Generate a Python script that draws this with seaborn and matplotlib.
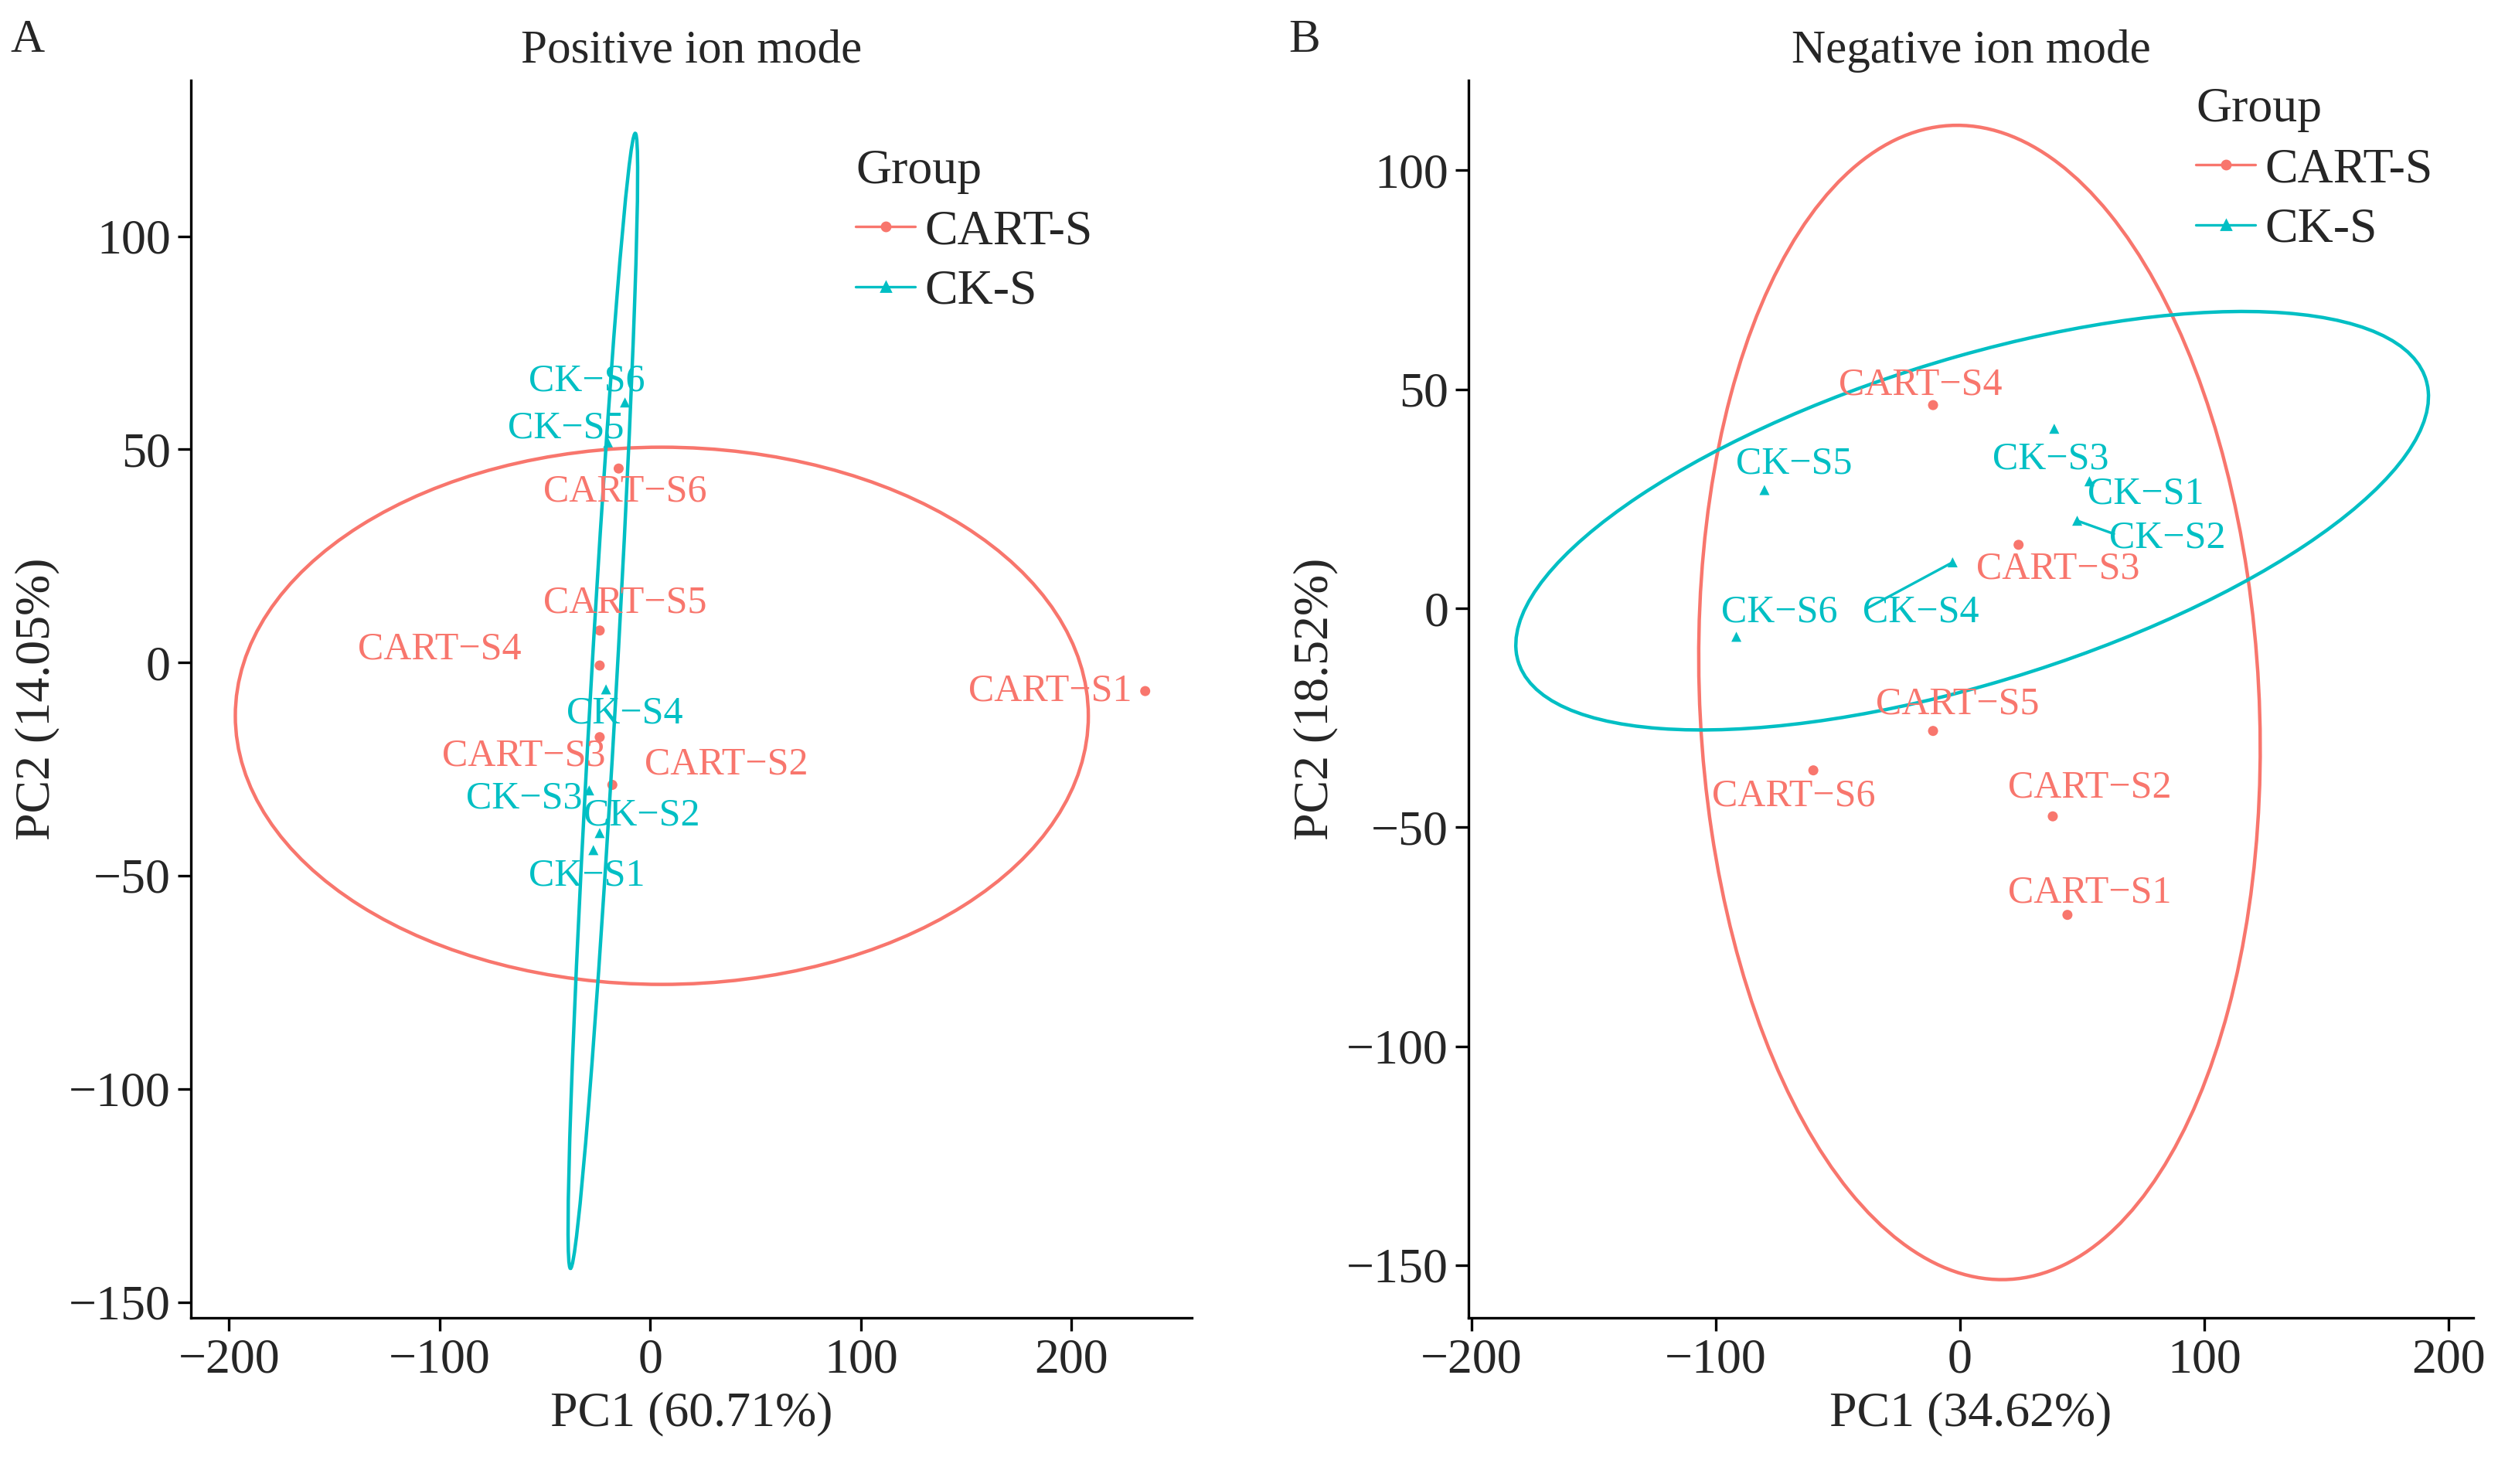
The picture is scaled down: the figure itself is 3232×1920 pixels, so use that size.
import numpy as np
import pandas as pd
import matplotlib.pyplot as plt
import seaborn as sns
from matplotlib.patches import Ellipse
from matplotlib.lines import Line2D

sns.set_theme(style="ticks")
plt.rcParams['font.family'] = ['Liberation Serif', 'DejaVu Serif']

RED = "#F8766D"
CYAN = "#00BFC4"

# ---------------- positive ion mode ----------------
pos_names = ["CART-S1", "CART-S2", "CART-S3", "CART-S4", "CART-S5", "CART-S6",
             "CK-S1", "CK-S2", "CK-S3", "CK-S4", "CK-S5", "CK-S6"]
pos_group = ["CART-S"] * 6 + ["CK-S"] * 6
pos_pc1 = [235, -18, -24, -24, -24, -15, -27, -24, -29, -21, -20, -12]
pos_pc2 = [-6.7, -28.7, -17.5, -0.7, 7.5, 45.5, -44, -40, -30, -6.3, 51.5, 61]
pos_lab_x = [190, 36, -60, -100, -12, -12, -30, -4, -60, -12, -40, -30]
pos_lab_y = [-6.7, -24, -22, 3, 14, 40, -50, -36, -32, -12, 55, 66]

# ---------------- negative ion mode ----------------
neg_names = pos_names
neg_group = pos_group
neg_pc1 = [44, 38, 24, -11, -11, -60, 53, 48, 38.6, -3, -80, -91.5]
neg_pc2 = [-70, -47.5, 14.5, 46.4, -28, -37, 29, 20, 41, 10.5, 27, -6.5]
neg_lab_x = [53, 53, 40, -16, -1, -68, 76, 85, 37, -16, -68, -74]
neg_lab_y = [-65, -41, 9, 51, -22, -43, 26, 16, 34, -1, 33, -1]
neg_seg = [False, False, False, False, False, False, False, True, False, True, False, False]

# ellipse parameters: (cx, cy, width, height, angle)
pos_ell = {"CART-S": (5.5, -12.5, 405, 126, 0), "CK-S": (-22.5, -9, 268, 12, 83.4)}
neg_ell = {"CART-S": (8, -21.5, 266, 227, 105), "CK-S": (5, 20, 378, 76, 9)}

palette = {"CART-S": RED, "CK-S": CYAN}
markers = {"CART-S": "o", "CK-S": "^"}

fig = plt.figure(figsize=(16.16, 9.6), dpi=200)
ax1 = fig.add_axes([0.0765, 0.112, 0.4005, 0.834])
ax2 = fig.add_axes([0.588, 0.112, 0.402, 0.834])


def panel(ax, names, group, x, y, lx, ly, ell, seg, title, xlab, ylab, xlim, ylim, xticks, yticks, leg_pos):
    df = pd.DataFrame({"PC1": x, "PC2": y, "Group": group})
    sns.scatterplot(data=df, x="PC1", y="PC2", hue="Group", style="Group", palette=palette,
                    markers=markers, s=22, edgecolor="none", legend=False, ax=ax)
    for g, (cx, cy, w, h, a) in ell.items():
        ax.add_patch(Ellipse((cx, cy), w, h, angle=a, fill=False, ec=palette[g], lw=1.6))
    for i, n in enumerate(names):
        c = palette[group[i]]
        ax.text(lx[i], ly[i], n.replace("-", "\u2212"), color=c, fontsize=18, ha="center", va="center")
        if seg[i]:
            ax.plot([x[i], lx[i] - 22], [y[i], ly[i] + 1], color=c, lw=1.2)
    ax.set_xlim(xlim)
    ax.set_ylim(ylim)
    ax.set_xticks(xticks)
    ax.set_yticks(yticks)
    ax.set_xticklabels([str(t).replace("-", "\u2212") for t in xticks])
    ax.set_yticklabels([str(t).replace("-", "\u2212") for t in yticks])
    ax.tick_params(labelsize=23, length=6, width=1.2, color="black")
    ax.set_xlabel(xlab, fontsize=23)
    ax.set_ylabel(ylab, fontsize=23)
    ax.set_title(title, fontsize=22, pad=8)
    sns.despine(ax=ax)
    for s in ["left", "bottom"]:
        ax.spines[s].set_linewidth(1.2)
        ax.spines[s].set_color("black")
    handles = [Line2D([], [], color=palette[g], marker=markers[g], markersize=4, lw=1.2) for g in palette]
    ax.legend(handles, list(palette), title="Group", loc="upper left", bbox_to_anchor=leg_pos,
              frameon=False, fontsize=23, title_fontsize=23, handlelength=1.2,
              handletextpad=0.2, labelspacing=0.3, alignment="left")


xt = [-200, -100, 0, 100, 200]
yt = [-150, -100, -50, 0, 50, 100]
panel(ax1, pos_names, pos_group, pos_pc1, pos_pc2, pos_lab_x, pos_lab_y, pos_ell, [False] * 12,
      "Positive ion mode", "PC1 (60.71%)", "PC2 (14.05%)", (-218, 257), (-153.7, 136.6), xt, yt, (0.62, 0.98))
panel(ax2, neg_names, neg_group, neg_pc1, neg_pc2, neg_lab_x, neg_lab_y, neg_ell, neg_seg,
      "Negative ion mode", "PC1 (34.62%)", "PC2 (18.52%)", (-201, 210), (-162, 120.6), xt, yt, (0.68, 1.03))

fig.text(0.004, 0.965, "A", fontsize=22)
fig.text(0.516, 0.965, "B", fontsize=22)

fig.savefig("out.png", dpi=200)
